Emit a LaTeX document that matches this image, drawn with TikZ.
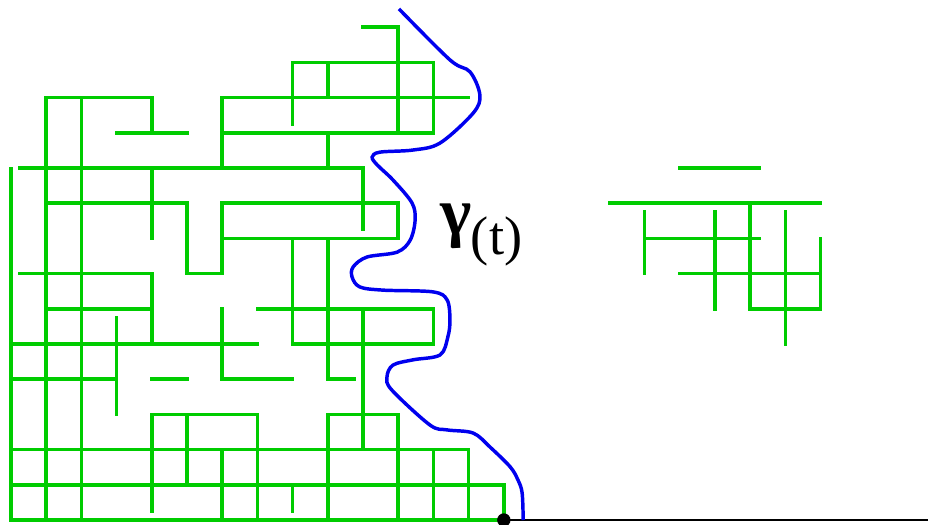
\documentclass[tikz,border=0pt]{standalone}
\usepackage{fontspec}
\usepackage{tikz}
\setmainfont{Liberation Serif}
\definecolor{bondgreen}{HTML}{00CC00}
\definecolor{curveblue}{HTML}{0000EE}

\begin{document}
\begin{tikzpicture}[x=1cm,y=1cm,
    bond/.style={bondgreen,line width=2.9pt,line cap=rect},
    curve/.style={curveblue,line width=2.8pt}]
  \useasboundingbox (-0.3125,-0.114) rectangle (26.05,14.772);
  % horizontal bonds: row / from / to
  \foreach \y/\a/\b in {14/10/11, 13/8/12, 12/1/4, 12/6/13, 11/3/5, 11/6/12,
      10/0.25/10, 9/1/5, 9/6/11, 8/6/11, 7/0.25/4, 7/5/6, 6/1/4, 6/7/12,
      5/0/7, 5/8/12, 4/0/3, 4/4/5, 4/6/8, 4/9/9.75, 3/4/7, 3/9/11,
      2/0/13, 1/0/14, 0/0/14,
      10/19/21.25, 9/17/23, 8/18/21.25, 7/19/23, 6/21/23}
    \draw[bond] (\a,\y)--(\b,\y);
  % vertical bonds: column / from / to
  \foreach \x/\a/\b in {0/0/9.98, 1/0/12, 2/0/12, 3/3/5.75,
      4/11/12, 4/8/10, 4/5/7, 4/0.25/3, 5/7/9, 5/1/3,
      6/10/12, 6/7/9, 6/4/6, 6/0/2, 7/0/3,
      8/11.25/13, 8/5/8, 8/0.25/1, 9/12/13, 9/10/11, 9/4/8, 9/0/3,
      10/8.25/10, 10/2/6, 11/11/14, 11/8/9, 11/0/3,
      12/11/13, 12/5/6, 12/0/2, 13/0/2, 14/0/1,
      18/7/8.75, 20/6/8.75, 21/6/9, 22/5/8.75, 23/6/8}
    \draw[bond] (\x,\a)--(\x,\b);
  % boundary
  \coordinate (O) at (14,0);
  \coordinate (E) at (26.05,0);
  \draw[black,line width=1.1pt] (O)--(E);
  \fill (O) circle (0.19);
  % the curve
  \draw[curve] plot[smooth,tension=0.55] coordinates {
      (11.02,14.52) (12.47,13.07) (13.04,12.73) (13.32,12.07) (13.13,11.56)
      (12.19,10.71) (11.42,10.51) (10.48,10.45) (10.26,10.31) (10.40,10.09)
      (10.85,9.66) (11.39,9.01) (11.48,8.52) (11.34,7.95) (10.97,7.61)
      (10.11,7.47) (9.72,7.19) (9.69,6.90) (9.91,6.62) (10.57,6.53)
      (11.99,6.48) (12.39,6.25) (12.47,5.68) (12.41,5.20) (12.19,4.69)
      (11.42,4.55) (10.85,4.40) (10.68,4.06) (10.82,3.69) (11.90,2.70)
      (12.39,2.56) (13.13,2.47) (13.61,2.07) (14.18,1.51) (14.40,1.14)
      (14.52,0.77) (14.55,0)};
  \node[anchor=base west,inner sep=0pt,font=\bfseries\fontsize{54}{54}\selectfont] (gam) at (12.2,8.1) {γ};
  \node[anchor=base west,inner sep=0pt,font=\fontsize{44}{44}\selectfont] (targ) at (13.06,7.55) {(t)};
\end{tikzpicture}
\end{document}
